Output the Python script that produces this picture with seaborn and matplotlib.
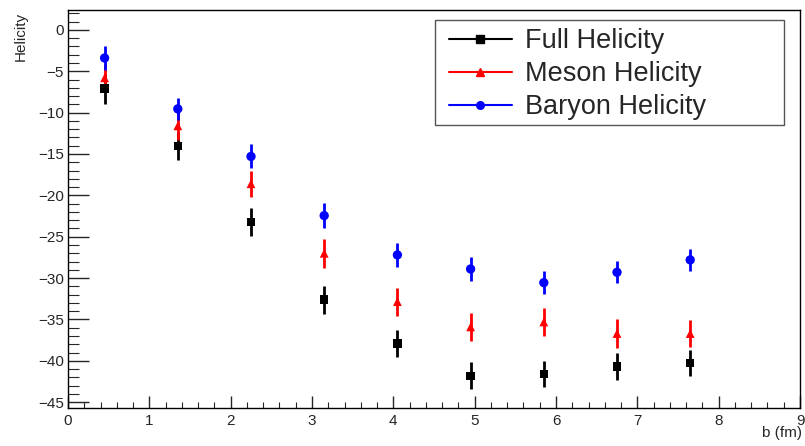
import numpy as np
import pandas as pd
import seaborn as sns
import matplotlib.pyplot as plt
from matplotlib.lines import Line2D
from matplotlib.patches import Rectangle
from matplotlib.ticker import MultipleLocator

# impact parameter bin centres (fm)
b = [0.45, 1.35, 2.25, 3.15, 4.05, 4.95, 5.85, 6.75, 7.65]

full = [-7.1, -14.0, -23.2, -32.6, -37.9, -41.8, -41.6, -40.7, -40.3]
full_err = [1.8, 1.7, 1.7, 1.7, 1.6, 1.65, 1.6, 1.6, 1.55]

meson = [-5.8, -11.6, -18.6, -27.0, -32.85, -35.9, -35.3, -36.7, -36.7]
meson_err = [1.7, 1.7, 1.6, 1.75, 1.7, 1.7, 1.7, 1.7, 1.6]

baryon = [-3.4, -9.55, -15.3, -22.45, -27.2, -28.9, -30.55, -29.3, -27.8]
baryon_err = [1.5, 1.3, 1.45, 1.5, 1.45, 1.45, 1.35, 1.35, 1.3]

names = ['Full Helicity', 'Meson Helicity', 'Baryon Helicity']
colors = {'Full Helicity': 'black', 'Meson Helicity': 'red', 'Baryon Helicity': 'blue'}
markers = {'Full Helicity': 's', 'Meson Helicity': '^', 'Baryon Helicity': 'o'}
sizes = {'Full Helicity': 36, 'Meson Helicity': 40, 'Baryon Helicity': 45}

df = pd.concat([
    pd.DataFrame({'b': b, 'h': full, 'err': full_err, 'kind': names[0]}),
    pd.DataFrame({'b': b, 'h': meson, 'err': meson_err, 'kind': names[1]}),
    pd.DataFrame({'b': b, 'h': baryon, 'err': baryon_err, 'kind': names[2]}),
], ignore_index=True)

sns.set_style('ticks')
plt.rcParams['font.family'] = ['Liberation Sans', 'DejaVu Sans']

fig = plt.figure(figsize=(8.05, 4.46), dpi=100)
ax = fig.add_axes([68 / 805, 1 - 408 / 446, 732 / 805, 398 / 446])

# error bars first, then markers on top
for k in names:
    d = df[df['kind'] == k]
    ax.errorbar(d['b'], d['h'], yerr=d['err'], fmt='none',
                ecolor=colors[k], elinewidth=2, capsize=0, zorder=2)
    sns.scatterplot(data=d, x='b', y='h', color=colors[k], marker=markers[k],
                    s=sizes[k], edgecolor='none', linewidth=0, ax=ax,
                    zorder=3, legend=False)

ax.set_xlim(0, 9)
ax.set_ylim(-45.7, 2.4)
ax.xaxis.set_major_locator(MultipleLocator(1))
ax.xaxis.set_minor_locator(MultipleLocator(0.2))
ax.yaxis.set_major_locator(MultipleLocator(5))
ax.yaxis.set_minor_locator(MultipleLocator(1))
ax.tick_params(axis='x', which='major', direction='in', length=9, width=1,
               labelsize=11, pad=4, bottom=True, top=False)
ax.tick_params(axis='x', which='minor', direction='in', length=4.5, width=0.8,
               bottom=True, top=False)
ax.tick_params(axis='y', which='major', direction='in', length=15, width=1,
               labelsize=11, pad=3, left=True, right=False)
ax.tick_params(axis='y', which='minor', direction='in', length=8, width=0.8,
               left=True, right=False)

for s in ax.spines.values():
    s.set_visible(True)
    s.set_color('black')
    s.set_linewidth(1)

ax.set_xlabel('b (fm)', fontsize=11, ha='right', va='top')
ax.xaxis.set_label_coords(1.003, -0.045)
ax.set_ylabel('Helicity', fontsize=11, ha='right', va='center')
ax.yaxis.set_label_coords(-0.065, 0.995)

# ROOT-style legend box (fixed size), entries placed inside
ax.add_patch(Rectangle((0.501, 0.711), 0.477, 0.264, transform=ax.transAxes,
                       facecolor='white', edgecolor='#555555', lw=1, zorder=4))
handles = [Line2D([0], [0], color=colors[k], marker=markers[k], lw=1.5,
                  markersize=5.5) for k in names]
leg = ax.legend(handles, names, loc='upper left', bbox_to_anchor=(0.508, 0.978),
                borderaxespad=0, fontsize=19.5, frameon=False,
                handlelength=2.3, handletextpad=0.5, labelspacing=0.26,
                borderpad=0.35)
leg.set_zorder(5)

fig.savefig('out.png', dpi=100)
